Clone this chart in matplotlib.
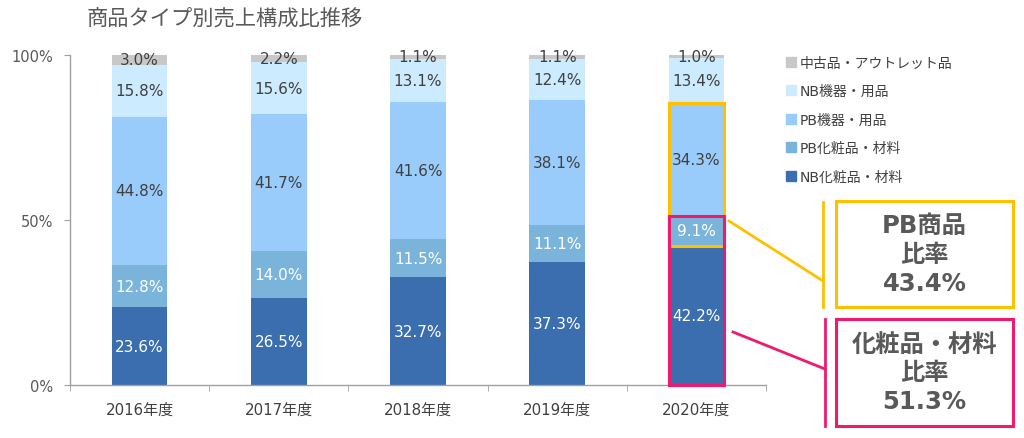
import matplotlib
matplotlib.use("Agg")
import matplotlib.pyplot as plt
from matplotlib.patches import Rectangle
from matplotlib.lines import Line2D
import numpy as np

plt.rcParams['font.family'] = ['DejaVu Sans', 'Noto Sans CJK JP']

years = ['2016年度', '2017年度', '2018年度', '2019年度', '2020年度']
series_names = ['NB化粧品・材料', 'PB化粧品・材料', 'PB機器・用品', 'NB機器・用品', '中古品・アウトレット品']
nb_cosme = [23.6, 26.5, 32.7, 37.3, 42.2]
pb_cosme = [12.8, 14.0, 11.5, 11.1, 9.1]
pb_equip = [44.8, 41.7, 41.6, 38.1, 34.3]
nb_equip = [15.8, 15.6, 13.1, 12.4, 13.4]
used = [3.0, 2.2, 1.1, 1.1, 1.0]
series = [nb_cosme, pb_cosme, pb_equip, nb_equip, used]
colors = ['#3A6EAF', '#7AB4DB', '#99CCFB', '#CDEBFE', '#C8C8C8']
label_colors = ['white', 'white', '#404040', '#404040', '#404040']
callout_pb = 'PB商品\n比率\n43.4%'
callout_cosme = '化粧品・材料\n比率\n51.3%'

gray = '#595959'
fig = plt.figure(figsize=(10.24, 4.39), dpi=100)
ax = fig.add_axes([70/1024, 1-386/439, 696/1024, 330/439])

x = np.arange(len(years))
width = 0.4
bottom = np.zeros(len(years))
for vals, c, lc in zip(series, colors, label_colors):
    vals = np.array(vals)
    ax.bar(x, vals, width, bottom=bottom, color=c, zorder=2)
    for xi, b, v in zip(x, bottom, vals):
        ax.text(xi, b + v/2, f'{v:.1f}%', ha='center', va='center',
                color=lc, fontsize=11, zorder=3)
    bottom += vals

ax.set_xlim(-0.5, len(years)-0.5)
ax.set_ylim(0, 100)
ax.set_yticks([0, 50, 100])
ax.set_yticklabels(['0%', '50%', '100%'], fontsize=10.5, color=gray)
ax.set_xticks(x)
ax.set_xticklabels(years, fontsize=10.8, color='#404040')
ax.set_xticks(np.arange(-0.5, len(years)), minor=True)
ax.tick_params(axis='x', which='major', length=0, pad=12)
ax.tick_params(axis='x', which='minor', length=4, color='#A0A0A0')
ax.tick_params(axis='y', length=4, color='#A0A0A0', pad=8)
for s in ['top', 'right']:
    ax.spines[s].set_visible(False)
for s in ['left', 'bottom']:
    ax.spines[s].set_color('#A0A0A0')
    ax.spines[s].set_linewidth(1)

# highlight boxes on 2020 bar
i = 4
pb_lo = nb_cosme[i]
pb_hi = nb_cosme[i] + pb_cosme[i] + pb_equip[i]
cos_hi = nb_cosme[i] + pb_cosme[i]
ax.add_patch(Rectangle((i - width/2, pb_lo), width, pb_hi - pb_lo,
                       fill=False, edgecolor='#FFC000', lw=2.2, zorder=4, clip_on=False))
ax.add_patch(Rectangle((i - width/2, 0), width, cos_hi,
                       fill=False, edgecolor='#F0196E', lw=2.2, zorder=5, clip_on=False))

# title
fig.text(86/1024, 1-19/439, '商品タイプ別売上構成比推移', fontsize=15.3, color=gray,
         ha='left', va='center', family=['Noto Sans CJK JP'])

# legend
handles = [Rectangle((0, 0), 1, 1, color=c) for c in colors][::-1]
leg = fig.legend(handles, series_names[::-1], loc='upper left',
                 bbox_to_anchor=(773/1024, 1-44/439), frameon=False,
                 handlelength=0.75, handleheight=0.75, handletextpad=0.3,
                 labelspacing=1.05, fontsize=10, labelcolor='#404040')

# callouts
def fig_line(xs, ys, color):
    fig.add_artist(Line2D([v/1024 for v in xs], [1 - v/439 for v in ys],
                          color=color, lw=2, transform=fig.transFigure))

def fig_box(x0, y0, x1, y1, color, text):
    fig.add_artist(Rectangle((x0/1024, 1 - y1/439), (x1-x0)/1024, (y1-y0)/439,
                             fill=False, edgecolor=color, lw=2.2,
                             transform=fig.transFigure))
    fig.text((x0+x1)/2/1024, 1 - (y0+y1)/2/439, text, ha='center', va='center',
             fontsize=17.5, fontweight='bold', color=gray, linespacing=1.25)

fig_line([729, 823], [222, 282], '#FFC000')
fig_line([823, 823], [203, 308], '#FFC000')
fig_box(836, 202, 1013, 308, '#FFC000', callout_pb)
fig_line([733, 825], [333, 370], '#F0196E')
fig_line([825, 825], [320, 427], '#F0196E')
fig_box(836, 320, 1013, 427, '#F0196E', callout_cosme)

fig.savefig('out.png', dpi=100)
